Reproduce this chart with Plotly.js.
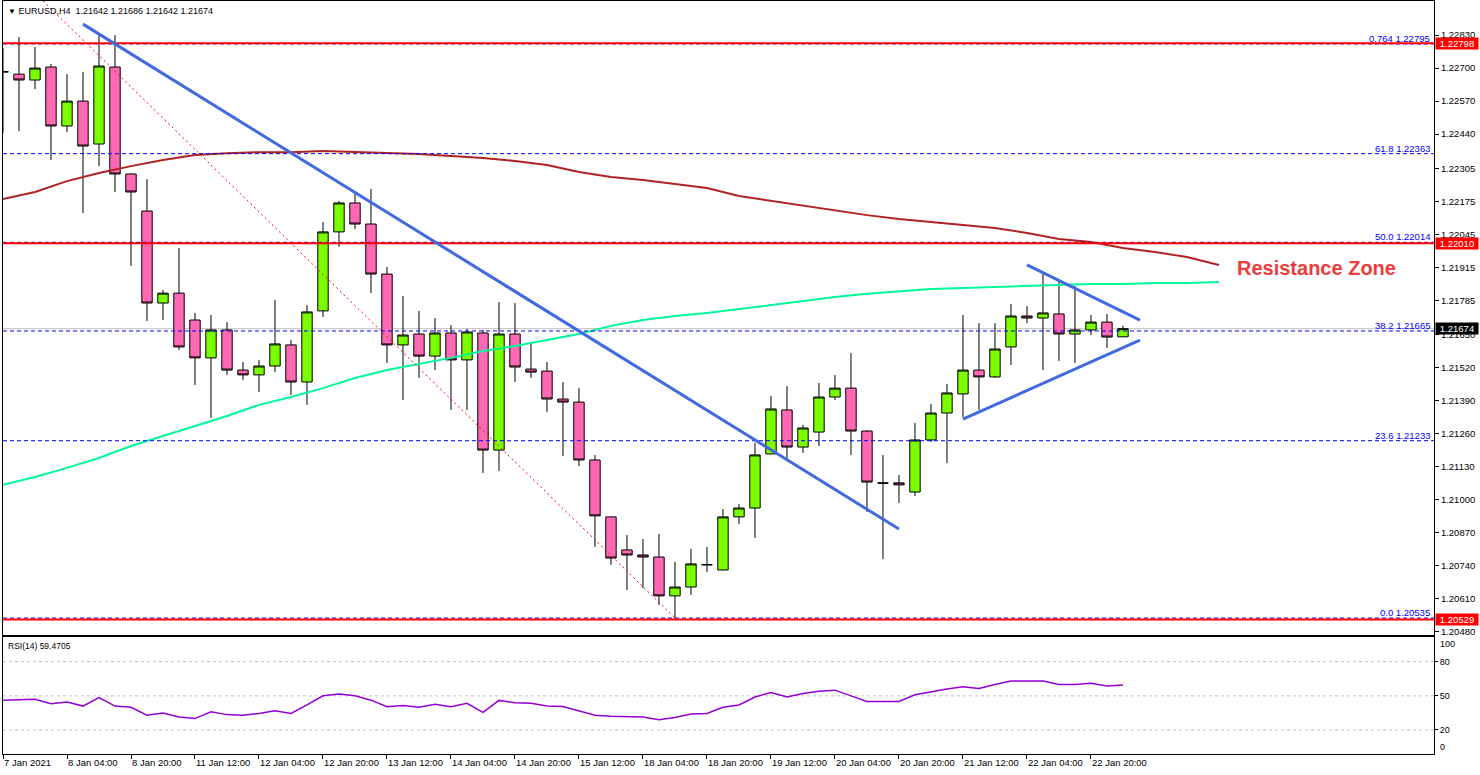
<!DOCTYPE html>
<html>
<head>
<meta charset="utf-8">
<script src="https://cdn.plot.ly/plotly-3.0.1.min.js"></script>
<style>html,body{margin:0;padding:0;background:#fff;}#chart{width:1480px;height:775px;}</style>
</head>
<body>
<div id="chart"></div>
<script>
// ---- Data (EURUSD H4) ----
const barIndex = [0,1,2,3,4,5,6,7,8,9,10,11,12,13,14,15,16,17,18,19,20,21,22,23,24,25,26,27,28,29,30,31,32,33,34,35,36,37,38,39,40,41,42,43,44,45,46,47,48,49,50,51,52,53,54,55,56,57,58,59,60,61,62,63,64,65,66,67,68,69,70];
const open = [1.22684,1.22676,1.22653,1.22704,1.22472,1.22570,1.22401,1.22704,1.22283,1.22137,
1.21775,1.21814,1.21708,1.21559,1.21669,1.21511,1.21492,1.21527,1.21610,1.21464,
1.21744,1.22055,1.22169,1.22086,1.21889,1.21610,1.21653,1.21566,1.21657,1.21551,
1.21657,1.21196,1.21653,1.21515,1.21507,1.21397,1.21385,1.21157,1.20933,1.20803,
1.20783,1.20775,1.20622,1.20657,1.20744,1.20724,1.20933,1.20968,1.21181,1.21354,
1.21208,1.21267,1.21405,1.21440,1.21271,1.21067,1.21067,1.21031,1.21236,1.21342,
1.21417,1.21511,1.21484,1.21602,1.21724,1.21716,1.21732,1.21653,1.21669,1.21700,
1.21642];
const high = [1.22779,1.22822,1.22783,1.22716,1.22676,1.22684,1.22830,1.22830,1.22285,1.22263,
1.21826,1.21992,1.21736,1.21728,1.21700,1.21543,1.21551,1.21787,1.21629,1.21767,
1.22094,1.22177,1.22204,1.22224,1.21917,1.21803,1.21744,1.21716,1.21688,1.21673,
1.21669,1.21779,1.21775,1.21618,1.21543,1.21464,1.21440,1.21177,1.20935,1.20862,
1.20846,1.20866,1.20756,1.20807,1.20815,1.20964,1.20984,1.21224,1.21409,1.21448,
1.21295,1.21460,1.21492,1.21578,1.21275,1.21177,1.21098,1.21303,1.21378,1.21456,
1.21728,1.21696,1.21696,1.21771,1.21763,1.21889,1.21858,1.21842,1.21728,1.21732,
1.21686];
const low = [1.22444,1.22452,1.22617,1.22338,1.22448,1.22129,1.22314,1.22212,1.21921,1.21704,
1.21708,1.21590,1.21452,1.21322,1.21492,1.21472,1.21425,1.21503,1.21413,1.21374,
1.21720,1.21996,1.22066,1.21814,1.21539,1.21393,1.21480,1.21511,1.21354,1.21354,
1.21106,1.21114,1.21464,1.21480,1.21346,1.21173,1.21133,1.20815,1.20744,1.20645,
1.20653,1.20586,1.20529,1.20626,1.20716,1.20722,1.20905,1.20850,1.21179,1.21165,
1.21185,1.21212,1.21393,1.21177,1.20952,1.20767,1.20988,1.21015,1.21228,1.21145,
1.21326,1.21354,1.21480,1.21531,1.21696,1.21511,1.21547,1.21539,1.21649,1.21598,
1.21642];
const close = [1.22686,1.22653,1.22700,1.22472,1.22570,1.22393,1.22708,1.22283,1.22212,1.21775,
1.21814,1.21602,1.21559,1.21669,1.21511,1.21492,1.21527,1.21614,1.21464,1.21740,
1.22055,1.22169,1.22086,1.21889,1.21610,1.21649,1.21566,1.21657,1.21551,1.21661,
1.21196,1.21653,1.21523,1.21503,1.21397,1.21385,1.21157,1.20937,1.20771,1.20783,
1.20775,1.20622,1.20657,1.20748,1.20745,1.20933,1.20968,1.21177,1.21358,1.21208,
1.21283,1.21405,1.21440,1.21271,1.21070,1.21066,1.21059,1.21236,1.21342,1.21421,
1.21511,1.21484,1.21594,1.21724,1.21716,1.21736,1.21653,1.21669,1.21700,1.21641,
1.21674];

// Moving averages (shifted forward, sampled every 2 bars)
const maIndex = [0,2,4,6,8,10,12,14,16,18,20,22,24,26,28,30,32,34,36,38,40,42,44,46,48,50,52,54,56,58,60,62,64,66,68,70,72,74,76];
const maSlow = [1.22184,1.22212,1.22255,1.22287,1.22314,1.22338,1.22358,1.22365,1.22369,1.22369,
1.22373,1.22369,1.22365,1.22362,1.22354,1.22346,1.22334,1.22318,1.22291,1.22271,
1.22259,1.22244,1.22228,1.22196,1.22177,1.22157,1.22137,1.22121,1.22106,1.22094,
1.22082,1.22070,1.22051,1.22027,1.22015,1.21992,1.21976,1.21956,1.21925];
const maFast = [1.21059,1.21090,1.21126,1.21165,1.21212,1.21252,1.21291,1.21330,1.21374,1.21405,
1.21440,1.21480,1.21511,1.21535,1.21559,1.21586,1.21606,1.21629,1.21653,1.21685,
1.21708,1.21724,1.21736,1.21751,1.21767,1.21783,1.21799,1.21811,1.21822,1.21830,
1.21834,1.21838,1.21842,1.21846,1.21850,1.21850,1.21854,1.21854,1.21858];

// RSI(14)
const rsi = [46.2,46.5,47,43,44.5,41,48.5,41,40,33,
35,31.5,30,36,33.5,33,34.5,37,34.5,42,
50,51.5,50,46.2,40.5,41.5,40,42.5,40.5,43.5,
35.5,46,44,43.5,41,40.7,37,33,32,31.5,
31.5,29,31,34,34.5,40,42,49,53,49,
52,54,55,50,45,45,45,51,53.7,56,
58,56.5,60,63,63,63,60,60,61,58.7,
59.47];
const rsiLevels = [80, 50, 20];
const rsiEdgeLabels = ['100', '0'];
const rsiEdgeLabelPos = [95.5, 5.1];

// Axis labels
const priceTicks = [1.22830,1.22700,1.22570,1.22440,1.22305,1.22175,1.22045,1.21915,1.21785,1.21650,1.21520,1.21390,1.21260,1.21130,1.21000,1.20870,1.20740,1.20610,1.20480];
const timeTickIdx = [0,4,8,12,16,20,24,28,32,36,40,44,48,52,56,60,64,68];
const timeTickText = ['7 Jan 2021','8 Jan 04:00','8 Jan 20:00','11 Jan 12:00','12 Jan 04:00','12 Jan 20:00','13 Jan 12:00','14 Jan 04:00','14 Jan 20:00','15 Jan 12:00','18 Jan 04:00','18 Jan 20:00','19 Jan 12:00','20 Jan 04:00','20 Jan 20:00','21 Jan 12:00','22 Jan 04:00','22 Jan 20:00'];

// Fibonacci retracement
const fibNames = ['0.764','61.8','50.0','38.2','23.6','0.0'];
const fibPrices = [1.22795,1.22363,1.22014,1.21665,1.21233,1.20535];
const fibDiagIdx = [2.5, 42];
const fibDiagPrice = [1.22964, 1.20535];

// Horizontal levels
const redLevels = [1.22798, 1.22010, 1.20529];
const bidPrice = 1.21674;

// Trend lines
const trendIdx = [5, 56];
const trendPrice = [1.22873, 1.20885];
const triUpperIdx = [64, 71.06];
const triUpperPrice = [1.21925, 1.21708];
const triLowerIdx = [60, 71.06];
const triLowerPrice = [1.21318, 1.21629];

const resistanceLabel = {text: 'Resistance Zone', idx: 82.1, price: 1.21913};
const headerText = 'EURUSD,H4\u00a0\u00a01.21642 1.21686 1.21642 1.21674';
const rsiHeader = 'RSI(14) 59.4705';

// ---- Chart ----
const FONT = 'Liberation Sans, Arial, sans-serif';
const xRange = [0, 89.44];

const traces = [
  {
    type: 'candlestick', x: barIndex, open: open, high: high, low: low, close: close,
    xaxis: 'x', yaxis: 'y', whiskerwidth: 0,
    increasing: {fillcolor: '#7CFC00', line: {color: '#000000', width: 1}},
    decreasing: {fillcolor: '#FF69B4', line: {color: '#000000', width: 1}},
    hoverinfo: 'skip', showlegend: false
  },
  {type: 'scatter', mode: 'lines', x: maIndex, y: maSlow, xaxis: 'x', yaxis: 'y',
   line: {color: '#B22222', width: 2}, hoverinfo: 'skip', showlegend: false},
  {type: 'scatter', mode: 'lines', x: maIndex, y: maFast, xaxis: 'x', yaxis: 'y',
   line: {color: '#00FA9A', width: 2}, hoverinfo: 'skip', showlegend: false},
  {type: 'scatter', mode: 'lines', x: barIndex, y: rsi, xaxis: 'x2', yaxis: 'y2',
   line: {color: '#9400D3', width: 1.5}, hoverinfo: 'skip', showlegend: false}
];

const shapes = [];
shapes.push({type: 'line', xref: 'x domain', x0: 0, x1: 1, yref: 'y', y0: bidPrice, y1: bidPrice,
  line: {color: '#C0C0C0', width: 1}, layer: 'below'});
fibPrices.forEach(p => shapes.push({type: 'line', xref: 'x domain', x0: 0, x1: 1, yref: 'y', y0: p, y1: p,
  line: {color: '#0000FF', width: 1, dash: '4px,3px'}, layer: 'above'}));
redLevels.forEach(p => shapes.push({type: 'line', xref: 'x domain', x0: 0, x1: 1, yref: 'y', y0: p, y1: p,
  line: {color: '#FF0000', width: 2}, layer: 'above'}));
shapes.push({type: 'line', xref: 'x', yref: 'y', x0: fibDiagIdx[0], x1: fibDiagIdx[1], y0: fibDiagPrice[0], y1: fibDiagPrice[1],
  line: {color: '#FF0000', width: 1, dash: '2px,3px'}, layer: 'above'});
[[trendIdx, trendPrice], [triUpperIdx, triUpperPrice], [triLowerIdx, triLowerPrice]].forEach(t =>
  shapes.push({type: 'line', xref: 'x', yref: 'y', x0: t[0][0], x1: t[0][1], y0: t[1][0], y1: t[1][1],
    line: {color: '#4169E1', width: 3}, layer: 'above'}));
rsiLevels.forEach(v => shapes.push({type: 'line', xref: 'x2 domain', x0: 0, x1: 1, yref: 'y2', y0: v, y1: v,
  line: {color: '#C0C0C0', width: 1, dash: '3px,3px'}, layer: 'below'}));

const annotations = [];
fibPrices.forEach((p, i) => annotations.push({
  xref: 'x domain', x: 1, xanchor: 'right', xshift: -2, yref: 'y', y: p, yanchor: 'bottom', yshift: -2,
  text: fibNames[i] + ' ' + p.toFixed(5), showarrow: false,
  font: {family: FONT, size: 9.5, color: '#0000FF'}
}));
redLevels.forEach(p => annotations.push({
  xref: 'paper', x: 1, xanchor: 'left', xshift: 1, yref: 'y', y: p, yanchor: 'middle',
  text: p.toFixed(5), showarrow: false, bgcolor: '#FF0000', width: 42, height: 11, borderpad: 0,
  font: {family: FONT, size: 9.5, color: '#FFFFFF'}
}));
annotations.push({
  xref: 'paper', x: 1, xanchor: 'left', xshift: 1, yref: 'y', y: bidPrice, yanchor: 'middle',
  text: bidPrice.toFixed(5), showarrow: false, bgcolor: '#000000', width: 42, height: 11, borderpad: 0,
  font: {family: FONT, size: 9.5, color: '#FFFFFF'}
});
rsiEdgeLabels.forEach((t, i) => annotations.push({
  xref: 'paper', x: 1, xanchor: 'left', xshift: 4, yref: 'y2', y: rsiEdgeLabelPos[i], yanchor: 'middle',
  text: t, showarrow: false, font: {family: FONT, size: 9, color: '#000000'}
}));
annotations.push({
  xref: 'paper', x: 0, xanchor: 'left', xshift: 3, yref: 'y domain', y: 1, yanchor: 'top', yshift: -3,
  text: '<span style="font-size:8px">\u25BC</span>\u00a0' + headerText, showarrow: false,
  font: {family: FONT, size: 9, color: '#000000'}
});
annotations.push({
  xref: 'paper', x: 0, xanchor: 'left', xshift: 3, yref: 'y2 domain', y: 1, yanchor: 'top', yshift: -2,
  text: rsiHeader, showarrow: false, font: {family: FONT, size: 8.5, color: '#000000'}
});
annotations.push({
  xref: 'x', x: resistanceLabel.idx, xanchor: 'center', yref: 'y', y: resistanceLabel.price, yanchor: 'middle',
  text: '<b>' + resistanceLabel.text + '</b>', showarrow: false,
  font: {family: FONT, size: 20, color: '#EE3B3B'}
});

const layout = {
  width: 1480, height: 775,
  margin: {l: 3, r: 46, t: 1, b: 21, pad: 0},
  paper_bgcolor: '#FFFFFF', plot_bgcolor: '#FFFFFF',
  showlegend: false, hovermode: false,
  boxgap: 0.35, boxgroupgap: 0,
  font: {family: FONT, size: 9.5, color: '#000000'},
  xaxis: {
    domain: [0, 1], anchor: 'y', range: xRange, rangeslider: {visible: false},
    showline: true, mirror: true, linecolor: '#000000', linewidth: 1,
    showgrid: false, zeroline: false, ticks: '', showticklabels: false, fixedrange: true
  },
  yaxis: {
    domain: [0.15803, 1], anchor: 'x', side: 'right', range: [1.20468, 1.22964],
    tickmode: 'array', tickvals: priceTicks, ticktext: priceTicks.map(v => v.toFixed(5)),
    ticks: 'outside', ticklen: 4, tickcolor: '#000000', tickwidth: 1,
    showline: true, mirror: true, linecolor: '#000000', linewidth: 1,
    showgrid: false, zeroline: false, tickfont: {family: FONT, size: 9.5, color: '#000000'}, fixedrange: true
  },
  xaxis2: {
    domain: [0, 1], anchor: 'y2', range: xRange,
    tickmode: 'array', tickvals: timeTickIdx, ticktext: timeTickText,
    ticks: 'outside', ticklen: 4, tickcolor: '#000000', ticklabelposition: 'outside right',
    showline: true, mirror: true, linecolor: '#000000', linewidth: 1,
    showgrid: false, zeroline: false, tickfont: {family: FONT, size: 9.5, color: '#000000'}, fixedrange: true
  },
  yaxis2: {
    domain: [0, 0.15538], anchor: 'x2', side: 'right', range: [-1.1, 101.7],
    tickmode: 'array', tickvals: rsiLevels, ticktext: rsiLevels.map(String),
    ticks: 'outside', ticklen: 3, tickcolor: '#000000',
    showline: true, mirror: true, linecolor: '#000000', linewidth: 1,
    showgrid: false, zeroline: false, tickfont: {family: FONT, size: 9, color: '#000000'}, fixedrange: true
  },
  shapes: shapes,
  annotations: annotations
};

Plotly.newPlot('chart', traces, layout, {staticPlot: true, displayModeBar: false});
</script>
</body>
</html>
